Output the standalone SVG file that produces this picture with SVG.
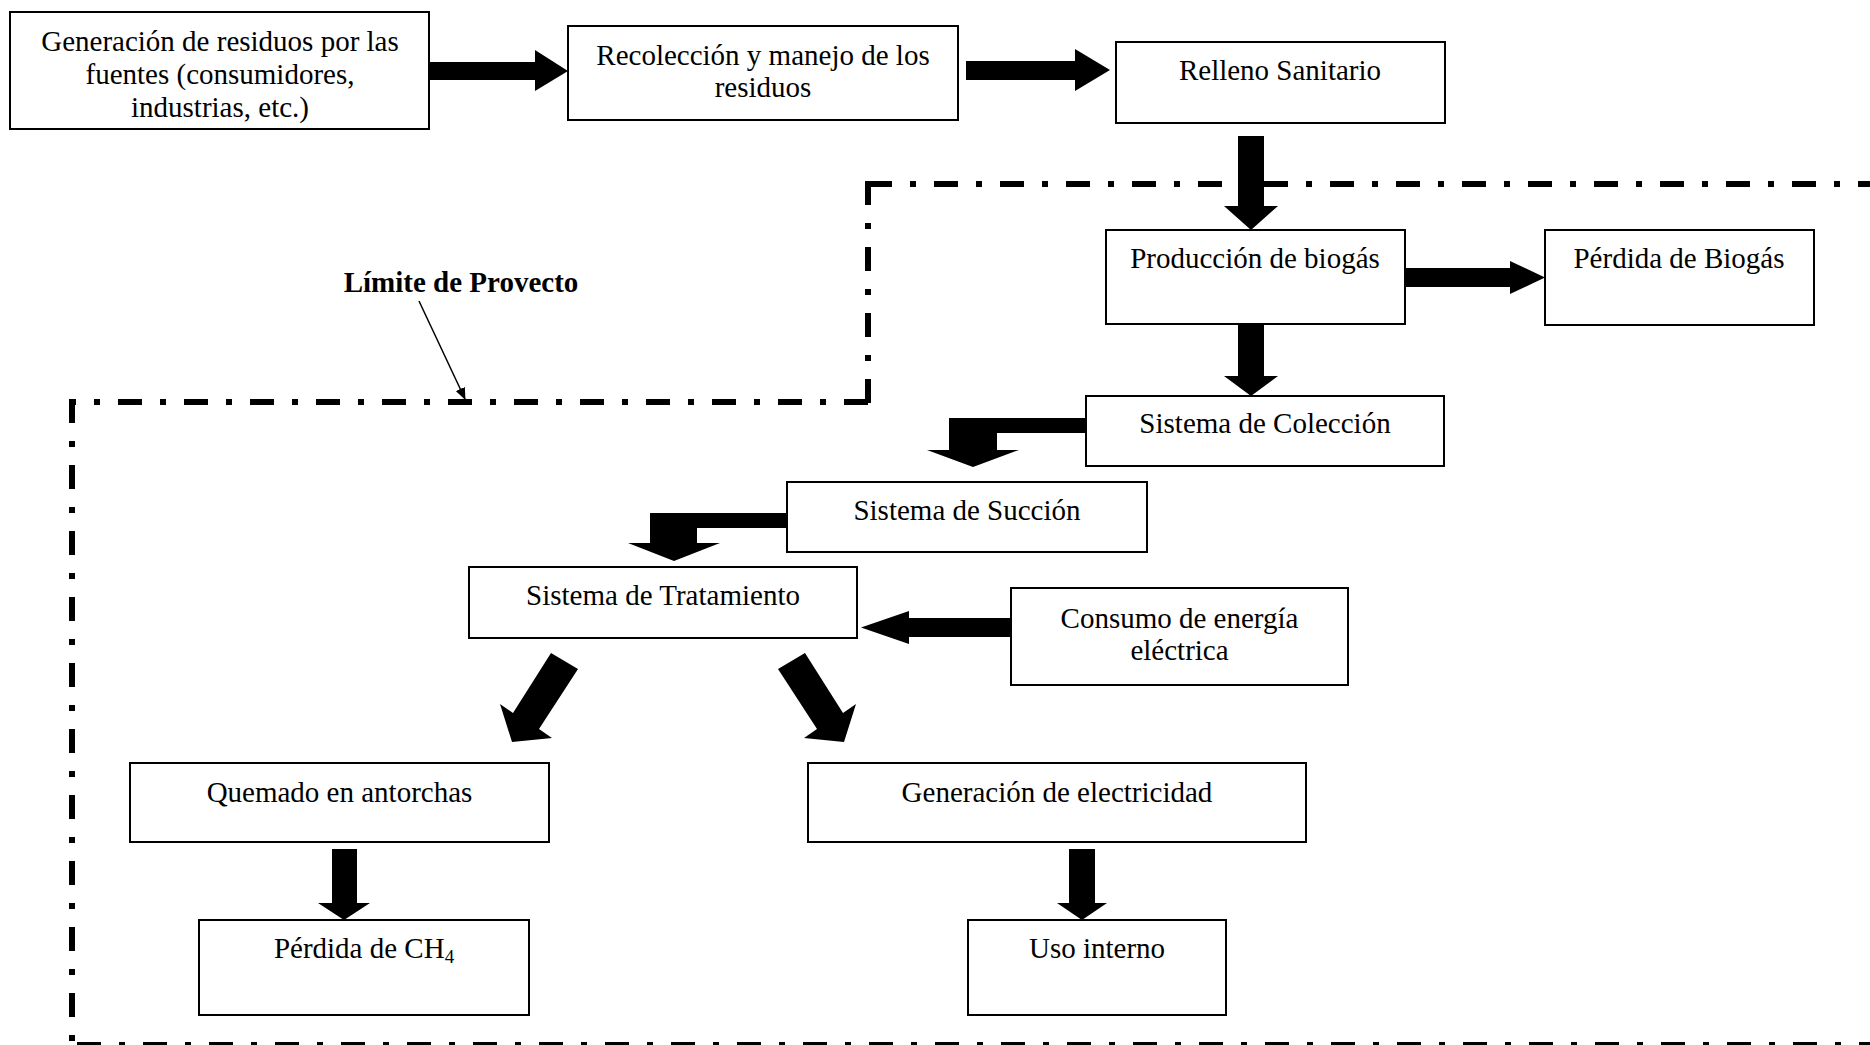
<svg xmlns="http://www.w3.org/2000/svg" width="1870" height="1045" viewBox="0 0 1870 1045">
<style>
  .box { fill: #ffffff; stroke: #000000; stroke-width: 2; }
  .t { font-family: "Liberation Serif", "Times New Roman", serif; font-size: 29px; fill: #000000; text-anchor: middle; }
  .b { font-weight: bold; }
  .arr { fill: #000000; stroke: none; }
  .bound { fill: none; stroke: #000000; stroke-width: 6; stroke-dasharray: 24 18 6 18; }
  .ptr { fill: none; stroke: #000000; stroke-width: 1.5; }
</style>
<defs>
  <marker id="ah" markerWidth="12" markerHeight="10" refX="11" refY="5" orient="auto" markerUnits="userSpaceOnUse" viewBox="0 0 12 10">
    <path d="M0,0 L12,5 L0,10 Z" fill="#000000"/>
  </marker>
</defs>
<rect width="1870" height="1045" fill="#ffffff"/>

<g id="boundary">
  <line class="bound" x1="868" y1="184" x2="1870" y2="184"/>
  <line class="bound" x1="868" y1="181" x2="868" y2="405"/>
  <line class="bound" x1="868" y1="402" x2="69" y2="402"/>
  <line class="bound" x1="72" y1="399" x2="72" y2="1045"/>
  <line class="bound" x1="69" y1="1045" x2="1870" y2="1045" stroke-dashoffset="58"/>
</g>

<g id="connectors">
  <polygon class="arr" points="430,62 535,62 535,50 568,71 535,91 535,80 430,80"/>
  <polygon class="arr" points="966,61 1075,61 1075,49 1110,70 1075,91 1075,80 966,80"/>
  <polygon class="arr" points="1238,136 1264,136 1264,206 1278,206 1251,230 1224,206 1238,206"/>
  <polygon class="arr" points="1405,268 1510,268 1510,261 1545,277.5 1510,294 1510,287 1405,287"/>
  <polygon class="arr" points="1238,325 1264,325 1264,376 1278,376 1251,396 1224,376 1238,376"/>
  <polygon class="arr" points="1086,418 949,418 949,450 927,450 973,467 1019,450 997,450 997,433 1086,433"/>
  <polygon class="arr" points="787,513 650,513 650,543 628,543 674,561 720,543 697,543 697,528 787,528"/>
  <polygon class="arr" points="1011,618 909,618 909,611 861,627.5 909,644 909,637 1011,637"/>
  <polygon class="arr" points="551,653 578,669 539,729 552,738 512,742 500,704 513,713"/>
  <polygon class="arr" points="805,653 778,669 817,729 804,738 844,742 856,704 843,713"/>
  <polygon class="arr" points="332,849 357,849 357,903 370,903 344,920 318,903 332,903"/>
  <polygon class="arr" points="1069,849 1095,849 1095,903 1107,903 1082,920 1057,903 1069,903"/>
  <line class="ptr" x1="419" y1="301" x2="465" y2="399" marker-end="url(#ah)"/>
</g>

<g id="label-limite">
  <text class="t b" x="461" y="292">Límite de Provecto</text>
</g>

<g id="n-generacion">
  <rect class="box" x="10" y="12" width="419" height="117"/>
  <text class="t" x="220" y="51">Generación de residuos por las</text>
  <text class="t" x="220" y="84">fuentes (consumidores,</text>
  <text class="t" x="220" y="117">industrias, etc.)</text>
</g>

<g id="n-recoleccion">
  <rect class="box" x="568" y="26" width="390" height="94"/>
  <text class="t" x="763" y="65">Recolección y manejo de los</text>
  <text class="t" x="763" y="97">residuos</text>
</g>

<g id="n-relleno">
  <rect class="box" x="1116" y="42" width="329" height="81"/>
  <text class="t" x="1280" y="80">Relleno Sanitario</text>
</g>

<g id="n-produccion">
  <rect class="box" x="1106" y="230" width="299" height="94"/>
  <text class="t" x="1255" y="268">Producción de biogás</text>
</g>

<g id="n-perdida-biogas">
  <rect class="box" x="1545" y="230" width="269" height="95"/>
  <text class="t" x="1679" y="268">Pérdida de Biogás</text>
</g>

<g id="n-coleccion">
  <rect class="box" x="1086" y="396" width="358" height="70"/>
  <text class="t" x="1265" y="433">Sistema de Colección</text>
</g>

<g id="n-succion">
  <rect class="box" x="787" y="482" width="360" height="70"/>
  <text class="t" x="967" y="520">Sistema de Succión</text>
</g>

<g id="n-tratamiento">
  <rect class="box" x="469" y="567" width="388" height="71"/>
  <text class="t" x="663" y="605">Sistema de Tratamiento</text>
</g>

<g id="n-consumo">
  <rect class="box" x="1011" y="588" width="337" height="97"/>
  <text class="t" x="1179.5" y="628">Consumo de energía</text>
  <text class="t" x="1179.5" y="660">eléctrica</text>
</g>

<g id="n-quemado">
  <rect class="box" x="130" y="763" width="419" height="79"/>
  <text class="t" x="339.5" y="802">Quemado en antorchas</text>
</g>

<g id="n-gen-electricidad">
  <rect class="box" x="808" y="763" width="498" height="79"/>
  <text class="t" x="1057" y="802">Generación de electricidad</text>
</g>

<g id="n-perdida-ch4">
  <rect class="box" x="199" y="920" width="330" height="95"/>
  <text class="t" x="364" y="958">Pérdida de CH<tspan font-size="19" dy="5">4</tspan></text>
</g>

<g id="n-uso">
  <rect class="box" x="968" y="920" width="258" height="95"/>
  <text class="t" x="1097" y="958">Uso interno</text>
</g>
</svg>
